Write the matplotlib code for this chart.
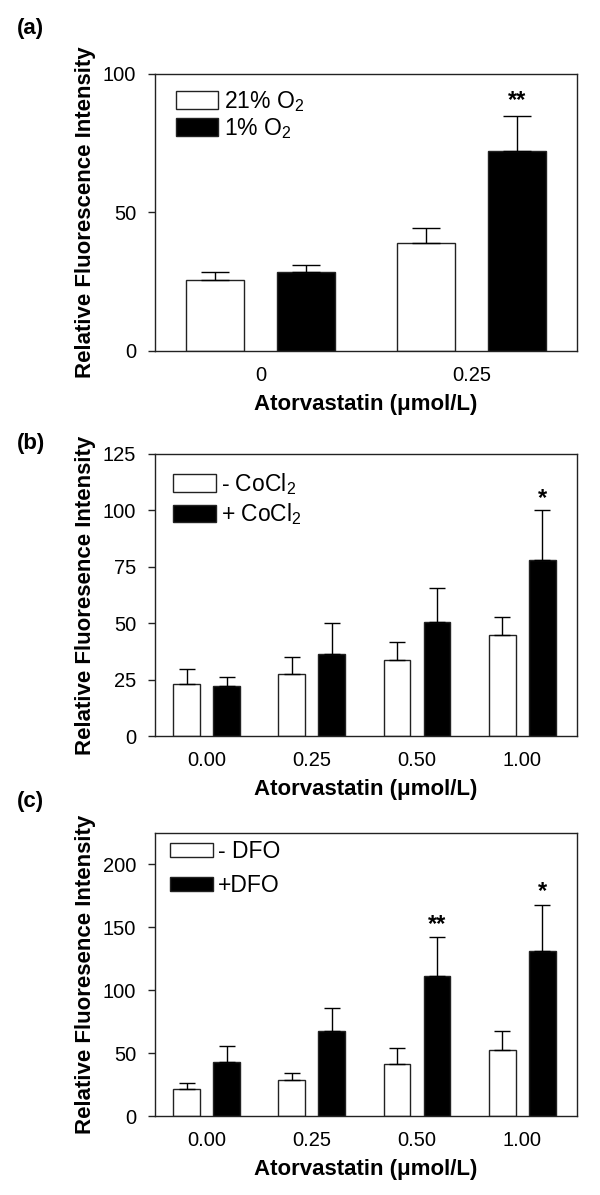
import matplotlib
matplotlib.use("Agg")
import matplotlib.pyplot as plt
import numpy as np

plt.rcParams['font.family'] = ['Liberation Sans', 'DejaVu Sans']
plt.rcParams['mathtext.fontset'] = 'custom'
plt.rcParams['mathtext.rm'] = 'Liberation Sans'
plt.rcParams['mathtext.it'] = 'Liberation Sans:italic'
plt.rcParams['mathtext.bf'] = 'Liberation Sans:bold'

# (a) hypoxia
a_doses = ['0', '0.25']
a_normoxia = [25.6, 39.0]
a_normoxia_err = [3.0, 5.3]
a_hypoxia = [28.6, 72.3]
a_hypoxia_err = [2.4, 12.6]
a_stars = ['', '**']

# (b) CoCl2
b_doses = ['0.00', '0.25', '0.50', '1.00']
b_ctrl = [23.2, 27.3, 33.5, 44.8]
b_ctrl_err = [6.4, 7.6, 8.3, 7.9]
b_cocl2 = [22.3, 36.5, 50.7, 78.0]
b_cocl2_err = [3.9, 13.4, 15.1, 22.2]
b_stars = ['', '', '', '*']

# (c) DFO
c_doses = ['0.00', '0.25', '0.50', '1.00']
c_ctrl = [21.5, 28.7, 41.2, 52.7]
c_ctrl_err = [4.8, 5.6, 13.1, 15.1]
c_dfo = [42.8, 67.6, 111.4, 131.6]
c_dfo_err = [13.1, 18.0, 30.6, 36.5]
c_stars = ['', '', '**', '*']

EDGE = '#222222'


def draw_panel(ax, doses, white, white_err, black, black_err, stars, labels, ylabel,
               ymax, ystep, xlim, offset, width, capsize, leg_anchor, handleheight, spacing,
               star_pad):
    x = np.arange(len(doses))
    zeros = np.zeros(len(doses))
    b1 = ax.bar(x - offset, white, width, color='white', edgecolor=EDGE, linewidth=1.0, zorder=2)
    b2 = ax.bar(x + offset, black, width, color='black', edgecolor=EDGE, linewidth=1.0, zorder=2)
    ax.errorbar(x - offset, white, yerr=[zeros, white_err], fmt='none', ecolor='black',
                elinewidth=1.0, capsize=capsize, capthick=1.0, zorder=3)
    ax.errorbar(x + offset, black, yerr=[zeros, black_err], fmt='none', ecolor='black',
                elinewidth=1.0, capsize=capsize, capthick=1.0, zorder=3)
    for xi, v, e, s in zip(x + offset, black, black_err, stars):
        if s:
            ax.annotate(s, (xi, v + e), xytext=(0, star_pad), textcoords='offset points',
                        ha='center', va='bottom', fontsize=17, fontweight='bold')

    ax.set_xlim(*xlim)
    ax.set_ylim(0, ymax)
    ax.set_yticks(np.arange(0, ymax + 1, ystep))
    ax.set_xticks(x)
    ax.set_xticklabels(doses)
    ax.tick_params(axis='x', length=0, pad=10.5, labelsize=14.5)
    ax.tick_params(axis='y', length=5, width=1.0, pad=8.5, labelsize=14.5, color=EDGE)
    for sp in ax.spines.values():
        sp.set_linewidth(1.0)
        sp.set_color(EDGE)

    ax.set_xlabel('Atorvastatin (\u03bcmol/L)', fontsize=16, fontweight='bold', labelpad=7)
    ax.set_ylabel(ylabel, fontsize=16, fontweight='bold', labelpad=5)

    ax.legend([b1, b2], labels, loc='upper left', bbox_to_anchor=leg_anchor,
              frameon=False, fontsize=16.5, borderpad=0, borderaxespad=0,
              handlelength=1.85, handleheight=handleheight, handletextpad=0.22,
              labelspacing=spacing)


fig = plt.figure(figsize=(6, 11.95), dpi=100)

ax_a = fig.add_axes([0.2583, 0.7063, 0.7033, 0.2318])
draw_panel(ax_a, a_doses, a_normoxia, a_normoxia_err, a_hypoxia, a_hypoxia_err, a_stars,
           ['21% O$_2$', '1% O$_2$'], 'Relative Fluorescence Intensity',
           100, 50, (-0.5, 1.5), 0.215, 0.277, 10, (0.05, 0.945), 0.8, 0.08, 3)

ax_b = fig.add_axes([0.2583, 0.3841, 0.7033, 0.2360])
draw_panel(ax_b, b_doses, b_ctrl, b_ctrl_err, b_cocl2, b_cocl2_err, b_stars,
           ['- CoCl$_2$', '+ CoCl$_2$'], 'Relative Fluoresence Intensity',
           125, 25, (-0.49, 3.52), 0.19, 0.254, 6, (0.043, 0.94), 0.8, 0.2, 0)

ax_c = fig.add_axes([0.2583, 0.0661, 0.7033, 0.2368])
draw_panel(ax_c, c_doses, c_ctrl, c_ctrl_err, c_dfo, c_dfo_err, c_stars,
           ['- DFO', '+DFO'], 'Relative Fluoresence Intensity',
           225, 50, (-0.49, 3.52), 0.19, 0.254, 6, (0.036, 0.975), 0.62, 0.48, 1)
ax_c.set_yticks(np.arange(0, 201, 50))

for letter, ypix in [('(a)', 28.5), ('(b)', 443), ('(c)', 802)]:
    fig.text(17 / 600, 1 - ypix / 1195, letter, fontsize=16, fontweight='bold',
             ha='left', va='center')

fig.savefig('out.png', dpi=100)
